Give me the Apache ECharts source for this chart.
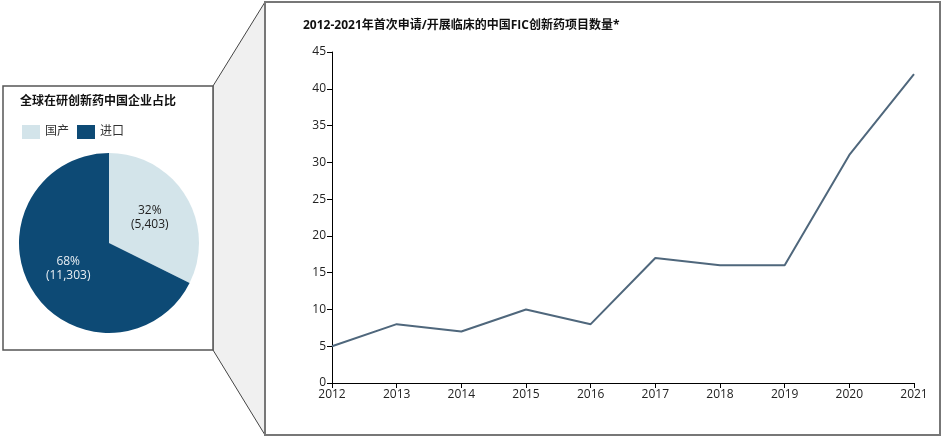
<!DOCTYPE html>
<html>
<head>
<meta charset="utf-8">
<script src="https://cdn.jsdelivr.net/npm/echarts@6/dist/echarts.min.js"></script>
<style>html,body{margin:0;padding:0;background:#fff}#main{width:943px;height:436px}</style>
</head>
<body>
<div id="main"></div>
<script>
var years = ["2012", "2013", "2014", "2015", "2016", "2017", "2018", "2019", "2020", "2021"];
var counts = [5, 8, 7, 10, 8, 17, 16, 16, 31, 42];
var pieNames = ["国产", "进口"];
var pieValues = [5403, 11303];
var piePercents = ["32%", "68%"];

var font = "'Open Sans','Noto Sans CJK SC',sans-serif";
var chart = echarts.init(document.getElementById("main"));

var option = {
	animation: false,
	textStyle: { fontFamily: font },
	graphic: [
		{ type: "polygon", z: -10, shape: { points: [[213, 86], [265, 2], [265, 435], [213, 350]] },
			style: { fill: "#f0f0f0", stroke: "#444", lineWidth: 1 } },
		{ type: "rect", z: -5, shape: { x: 3, y: 86, width: 210, height: 264 },
			style: { fill: "#fff", stroke: "#555", lineWidth: 1.5 } },
		{ type: "rect", z: -5, shape: { x: 265, y: 2, width: 675, height: 433 },
			style: { fill: "#fff", stroke: "#777", lineWidth: 2 } },
		{ type: "text", left: 20, top: 96, style: { text: "全球在研创新药中国企业占比", font: "bold 12px " + font, fill: "#111" } },
		{ type: "text", left: 303, top: 20, style: { text: "2012-2021年首次申请/开展临床的中国FIC创新药项目数量*", font: "bold 12px " + font, fill: "#111" } }
	],
	legend: {
		left: 17, top: 120, itemWidth: 18, itemHeight: 14, itemGap: 8,
		icon: "rect", data: pieNames,
		textStyle: { fontSize: 12, color: "#333", fontFamily: font }
	},
	grid: { left: 332, top: 52, width: 582, height: 331 },
	xAxis: {
		type: "category", data: years, boundaryGap: false,
		axisLine: { lineStyle: { color: "#000" } },
		axisTick: { show: true, alignWithLabel: true, lineStyle: { color: "#000" } },
		axisLabel: { color: "#222", fontSize: 12, margin: 6 }
	},
	yAxis: {
		type: "value", min: 0, max: 45, interval: 5,
		splitLine: { show: false },
		axisLine: { show: true, lineStyle: { color: "#000" } },
		axisTick: { show: true, lineStyle: { color: "#000" } },
		axisLabel: { color: "#222", fontSize: 12, margin: 6 }
	},
	series: [
		{
			type: "pie", center: [109, 243], radius: 90, startAngle: 90, clockwise: true,
			data: pieNames.map(function (n, i) { return { name: n, value: pieValues[i] }; }),
			color: ["#d3e4ea", "#0d4a75"],
			label: {
				position: "inside", fontSize: 12, lineHeight: 14,
				formatter: function (p) { return piePercents[p.dataIndex] + "\n(" + p.value.toLocaleString("en-US") + ")"; },
				color: "#222"
			},
			emphasis: { disabled: true },
			labelLine: { show: false },
			itemStyle: { borderWidth: 0 },
			silent: true
		},
		{
			type: "line", data: counts, symbol: "none",
			lineStyle: { color: "#4f677c", width: 2 },
			label: { show: true, position: "top", color: "#222", fontSize: 12, distance: 4 }
		}
	]
};
option.series[0].data[1].label = { color: "#e8eef3" };
chart.setOption(option);
</script>
</body>
</html>
